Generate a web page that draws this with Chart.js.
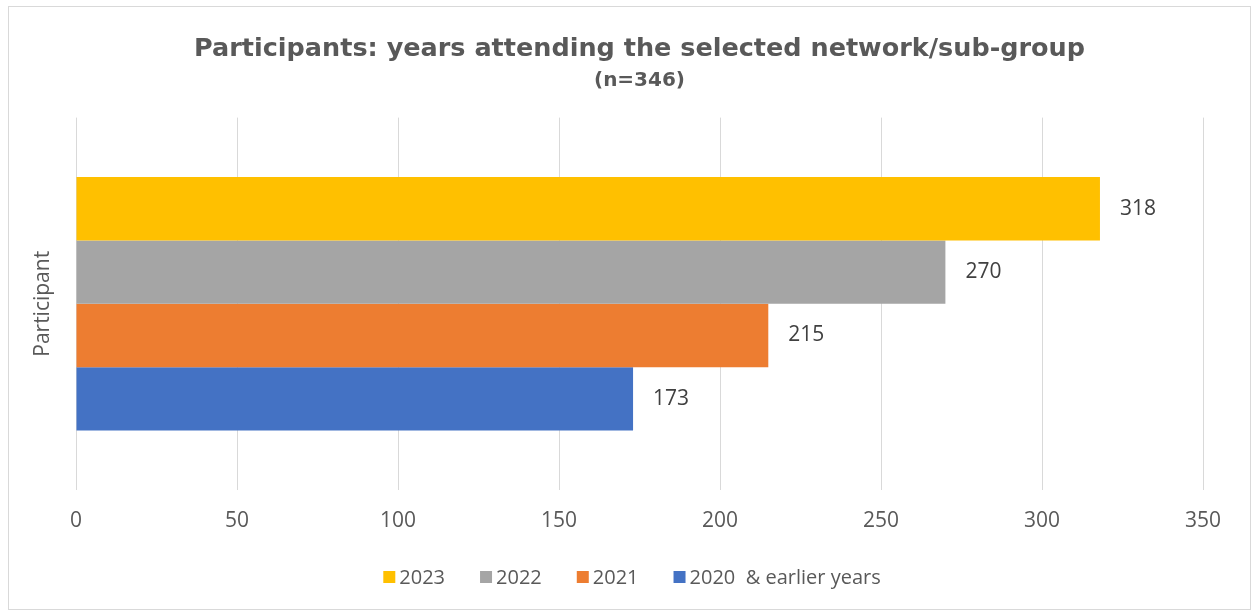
<!DOCTYPE html>
<html>
<head>
<meta charset="utf-8">
<script src="https://cdn.jsdelivr.net/npm/chart.js@4.4.1/dist/chart.umd.min.js"></script>
<style>
  html, body { margin: 0; padding: 0; background: #fff; }
  #wrap { position: relative; width: 1255px; height: 613px; }
</style>
</head>
<body>
<div id="wrap"><canvas id="yearsChart" width="1255" height="613"></canvas></div>
<script>
const categories = ["Participant"];
const seriesNames = ["2023", "2022", "2021", "2020  & earlier years"];
const seriesValues = [318, 270, 215, 173];
const seriesColors = ["#FFC000", "#A5A5A5", "#ED7D31", "#4472C4"];
const xTicks = [0, 50, 100, 150, 200, 250, 300, 350];

const FONT = "'Open Sans', 'Liberation Sans', sans-serif";
const HEAD_FONT = "'DejaVu Sans', Verdana, sans-serif";
const TEXT = "#595959";

// thin frame around the whole chart
const frame = {
  id: "frame",
  beforeDraw(c) {
    const ctx = c.ctx;
    ctx.save();
    ctx.fillStyle = "#fff";
    ctx.fillRect(0, 0, c.width, c.height);
    ctx.strokeStyle = "#d9d9d9";
    ctx.lineWidth = 1;
    ctx.strokeRect(8.5, 6.5, 1242, 603);
    ctx.restore();
  }
};

// value text to the right of each bar
const barValues = {
  id: "barValues",
  afterDatasetsDraw(c) {
    const ctx = c.ctx;
    ctx.save();
    ctx.font = `21px ${FONT}`;
    ctx.fillStyle = "#404040";
    ctx.textAlign = "left";
    ctx.textBaseline = "middle";
    c.data.datasets.forEach((ds, i) => {
      c.getDatasetMeta(i).data.forEach((bar, j) => {
        ctx.fillText(String(ds.data[j]), bar.x + 20, bar.y);
      });
    });
    ctx.restore();
  }
};

// legend row under the axis: square swatch + name
const bottomLegend = {
  id: "bottomLegend",
  afterDraw(c) {
    const ctx = c.ctx;
    const box = 12, gap = 4, spacing = 35, y = 577;
    ctx.save();
    ctx.font = `20px ${FONT}`;
    ctx.textBaseline = "middle";
    ctx.textAlign = "left";
    const widths = seriesNames.map((n) => box + gap + ctx.measureText(n).width);
    const total = widths.reduce((a, b) => a + b, 0) + spacing * (widths.length - 1);
    let x = 632 - total / 2;
    seriesNames.forEach((n, i) => {
      ctx.fillStyle = seriesColors[i];
      ctx.fillRect(x, y - box / 2, box, box);
      ctx.fillStyle = TEXT;
      ctx.fillText(n, x + box + gap, y + 1);
      x += widths[i] + spacing;
    });
    ctx.restore();
  }
};

new Chart(document.getElementById("yearsChart"), {
  type: "bar",
  data: {
    labels: categories,
    datasets: seriesNames.map((name, i) => ({
      label: name,
      data: [seriesValues[i]],
      backgroundColor: seriesColors[i],
      borderWidth: 0,
      categoryPercentage: 0.681,
      barPercentage: 1
    }))
  },
  options: {
    indexAxis: "y",
    responsive: false,
    animation: false,
    layout: { padding: { left: 0, right: 52, top: 0, bottom: 77 } },
    scales: {
      x: {
        min: 0,
        max: 350,
        afterBuildTicks: (axis) => { axis.ticks = xTicks.map((v) => ({ value: v })); },
        afterFit: (axis) => { axis.height = 46; },
        border: { display: false },
        grid: { color: "#d9d9d9", drawTicks: false },
        ticks: { color: TEXT, font: { family: FONT, size: 21 }, padding: 18 }
      },
      y: {
        afterFit: (axis) => { axis.width = 76; },
        border: { display: false },
        grid: { display: false },
        ticks: { display: false },
        title: {
          display: true,
          text: "Participant",
          color: TEXT,
          font: { family: FONT, size: 21 },
          padding: { top: 30, bottom: 0 }
        }
      }
    },
    plugins: {
      legend: { display: false },
      tooltip: { enabled: false },
      title: {
        display: true,
        fullSize: false,
        text: "Participants: years attending the selected network/sub-group",
        color: TEXT,
        font: { family: HEAD_FONT, size: 25.5, weight: "bold" },
        padding: { top: 34, bottom: 0 }
      },
      subtitle: {
        display: true,
        fullSize: false,
        text: "(n=346)",
        color: TEXT,
        font: { family: HEAD_FONT, size: 20, weight: "bold" },
        padding: { top: 4, bottom: 25 }
      }
    }
  },
  plugins: [frame, barValues, bottomLegend]
});
</script>
</body>
</html>
